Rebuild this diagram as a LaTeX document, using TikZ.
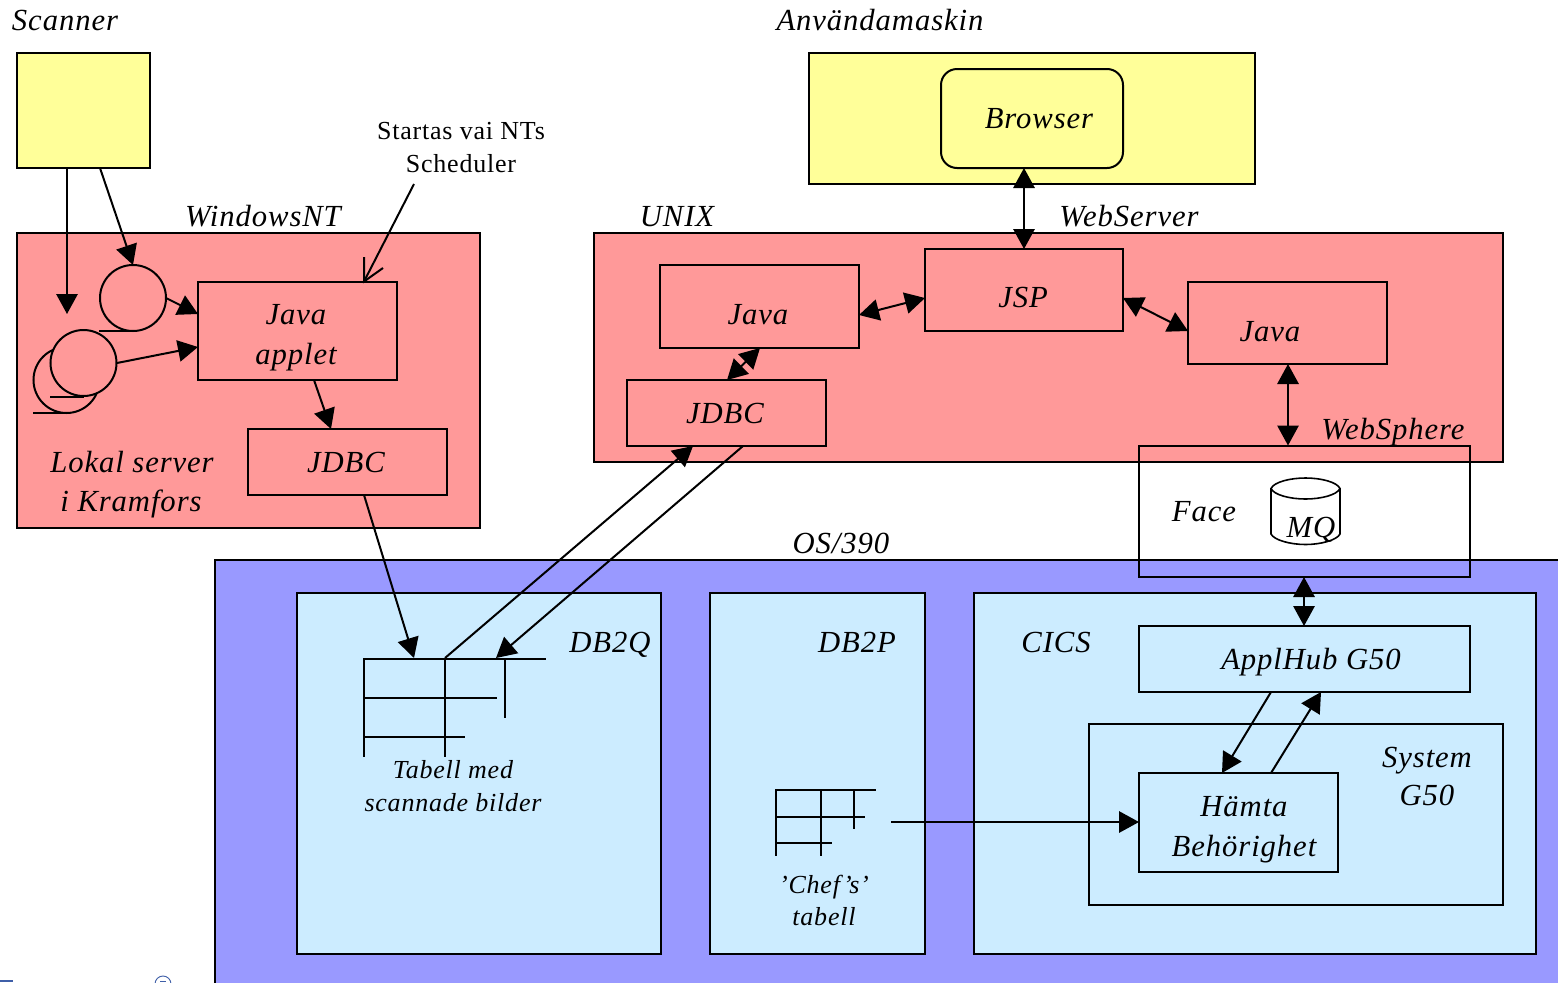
\documentclass[tikz,border=0pt]{standalone}
\usepackage{fontspec}
\setmainfont{Liberation Serif}[LetterSpace=3]
\usetikzlibrary{arrows.meta}
\definecolor{yel}{HTML}{FFFF99}
\definecolor{rd}{HTML}{FF9999}
\definecolor{blu}{HTML}{9999FF}
\definecolor{lblu}{HTML}{CCECFF}
\definecolor{logo}{HTML}{3F5FA8}
\tikzset{
  ln/.style={line width=1.5pt,draw=black},
  boxn/.style={ln,inner sep=0pt,outer sep=0pt,anchor=north west},
  lbl/.style={anchor=base,inner sep=0pt,outer sep=0pt,font=\fontsize{23}{23}\selectfont\itshape},
  lbs/.style={lbl,font=\fontsize{19.5}{19.5}\selectfont\itshape},
  lbr/.style={lbl,font=\fontsize{19.5}{19.5}\selectfont},
  tip/.style={ln,-{Triangle[length=15pt,width=16pt]}},
  tips/.style={ln,{Triangle[length=15pt,width=16pt]}-{Triangle[length=15pt,width=16pt]}},
  rule/.style={ln,line cap=butt}
}
\newcommand{\bx}[7][]{\node[boxn,#1,minimum width={(#4-#2)*0.75pt},minimum height={(#5-#3)*0.75pt}] (#6) at (#2,#3) {#7};}
\begin{document}
\begin{tikzpicture}[x=0.75pt,y=-0.75pt]
\clip (0,0) rectangle (1558,982);
\fill[white] (0,0) rectangle (1558,982);
% logo fragments at the bottom edge
\fill[logo] (0,980) rectangle (13,982);
\draw[logo,line width=0.7pt] (163,984) circle (8);
\draw[logo,line width=0.6pt] (160,981) -- (166,981);
% containers
\bx[fill=yel]{17}{53}{150}{168}{scanner}{}
\bx[fill=yel]{809}{53}{1255}{184}{userbox}{}
\bx[fill=yel,rounded corners=12pt]{941}{69}{1123}{168}{browser}{}
\bx[fill=rd]{17}{233}{480}{528}{nt}{}
\bx[fill=rd]{594}{233}{1503}{462}{unix}{}
\bx[fill=blu]{215}{560}{1580}{1000}{os}{}
\bx[fill=lblu]{297}{593}{661}{954}{dbq}{}
\bx[fill=lblu]{710}{593}{925}{954}{dbp}{}
\bx[fill=lblu]{974}{593}{1536}{954}{cics}{}
\bx{1139}{626}{1470}{692}{hub}{}
\bx{1089}{724}{1503}{905}{sys}{}
\bx{1139}{773}{1338}{872}{hamta}{}
\bx{1139}{446}{1470}{577}{face}{}
\bx{198}{282}{397}{380}{applet}{}
\bx{248}{429}{447}{495}{jdbcl}{}
\bx{660}{265}{859}{348}{javac}{}
\bx{925}{249}{1123}{331}{jsp}{}
\bx{1188}{282}{1387}{364}{javar}{}
\bx{627}{380}{826}{446}{jdbcm}{}
% tapes
\draw[ln,fill=rd] (66.5,380) circle (33);
\draw[ln] (33,413) -- (66.5,413);
\draw[ln,fill=rd] (83.5,363) circle (33);
\draw[ln] (50,397) -- (83.5,397);
\draw[ln,fill=rd] (133,298) circle (33);
\draw[ln] (99,331) -- (133,331);
\coordinate (tapeA) at (133,265);
\coordinate (tapeAr) at (166,298);
\coordinate (tapeBr) at (117,363);
\coordinate (tapeBt) at (67,314);
% cylinder
\draw[line width=1.2pt,fill=white] (1271,488.5) -- (1271,534) .. controls (1274,540) and (1290,544.5) .. (1305.5,544.5) .. controls (1321,544.5) and (1337,540) .. (1340,534) -- (1340,488.5) .. controls (1337,482) and (1321,478) .. (1305.5,478) .. controls (1290,478) and (1274,482) .. (1271,488.5) .. controls (1274,495) and (1290,499) .. (1305.5,499) .. controls (1321,499) and (1337,495) .. (1340,488.5);
% large table
\draw[rule] (364,659) -- (546,659) (364,698) -- (497,698) (364,737) -- (465,737)
  (364,658) -- (364,757) (445,658) -- (445,757) (505,659) -- (505,718);
% small table
\draw[rule] (776,790) -- (876,790) (776,817) -- (865,817) (776,843) -- (832,843)
  (776,789) -- (776,856) (821,789) -- (821,856) (854,789) -- (854,829);
% free ends
\coordinate (sA) at (67,168);
\coordinate (sB) at (100,168);
\coordinate (note) at (414,184);
\coordinate (noteT) at (364,281.5);
\coordinate (barbA) at (364,257);
\coordinate (barbB) at (383,268);
\coordinate (apA) at (198,314);
\coordinate (apB) at (198,347);
\coordinate (apS) at (314,380);
\coordinate (jlT) at (331,429);
\coordinate (jlS) at (364,495);
\coordinate (tbA) at (414,658);
\coordinate (tbB) at (445,658);
\coordinate (tbC) at (496,658);
\coordinate (jmA) at (693,446);
\coordinate (jmB) at (743,446);
\coordinate (jmT) at (727,380);
\coordinate (jcB) at (760,348);
\coordinate (jcR) at (859,315);
\coordinate (jsL) at (925,298);
\coordinate (jsR) at (1123,298);
\coordinate (jrL) at (1188,331);
\coordinate (jrB) at (1288,364);
\coordinate (fcT) at (1288,445.5);
\coordinate (fcB) at (1304,577);
\coordinate (huT) at (1304,626);
\coordinate (huA) at (1271,692);
\coordinate (huB) at (1321,692);
\coordinate (haA) at (1222,773);
\coordinate (haB) at (1271,773);
\coordinate (chef) at (891,822);
\coordinate (haL) at (1139,822);
\coordinate (brB) at (1024,168);
\coordinate (jsT) at (1024,249);
% connectors
\draw[tip] (sA) -- (tapeBt);
\draw[tip] (sB) -- (tapeA);
\draw[tip] (tapeAr) -- (apA);
\draw[tip] (tapeBr) -- (apB);
\draw[ln] (note) -- (noteT);
\draw[ln] (barbA) -- (noteT) -- (barbB);
\draw[tip] (apS) -- (jlT);
\draw[tip] (jlS) -- (tbA);
\draw[tip] (tbB) -- (jmA);
\draw[tip] (jmB) -- (tbC);
\draw[tips] (brB) -- (jsT);
\draw[tips] (jcR) -- (jsL);
\draw[tips] (jsR) -- (jrL);
\draw[tips] (jcB) -- (jmT);
\draw[tips] (jrB) -- (fcT);
\draw[tips] (fcB) -- (huT);
\draw[tip] (huA) -- (haA);
\draw[tip] (haB) -- (huB);
\draw[tip] (chef) -- (haL);
% labels
\node[lbl] (t1) at (65,30) {Scanner};
\node[lbl] (t2) at (880,30) {Användamaskin};
\node[lbl] (t3) at (1039,128) {Browser};
\node[lbl] (t4) at (263,226) {WindowsNT};
\node[lbl] (t5) at (677,226) {UNIX};
\node[lbl] (t6) at (1129,226) {WebServer};
\node[lbr] (t7) at (461,139) {Startas vai NTs};
\node[lbr] (t8) at (461,172) {Scheduler};
\node[lbl] (t9) at (296,324) {Java};
\node[lbl] (t10) at (296,364) {applet};
\node[lbl] (t11) at (346,472) {JDBC};
\node[lbl] (t12) at (132,472) {Lokal server};
\node[lbl] (t13) at (131,511) {i Kramfors};
\node[lbl] (t14) at (758,324) {Java};
\node[lbl] (t15) at (1023,307) {JSP};
\node[lbl] (t16) at (1270,341) {Java};
\node[lbl] (t17) at (725,423) {JDBC};
\node[lbl] (t18) at (1393,439) {WebSphere};
\node[lbl] (t19) at (1204,521) {Face};
\node[lbl] (t20) at (1311,537) {MQ};
\node[lbl] (t21) at (841,553) {OS/390};
\node[lbl] (t22) at (610,652) {DB2Q};
\node[lbl] (t23) at (857,652) {DB2P};
\node[lbl] (t24) at (1056,652) {CICS};
\node[lbl] (t25) at (1311,669) {ApplHub G50};
\node[lbl] (t26) at (1427,767) {System};
\node[lbl] (t27) at (1427,805) {G50};
\node[lbl] (t28) at (1244,816) {Hämta};
\node[lbl] (t29) at (1244,856) {Behörighet};
\node[lbs] (t30) at (453,778) {Tabell med};
\node[lbs] (t31) at (453,811) {scannade bilder};
\node[lbs] (t32) at (824,893) {’Chef’s’};
\node[lbs] (t33) at (824,925) {tabell};
\end{tikzpicture}
\end{document}
